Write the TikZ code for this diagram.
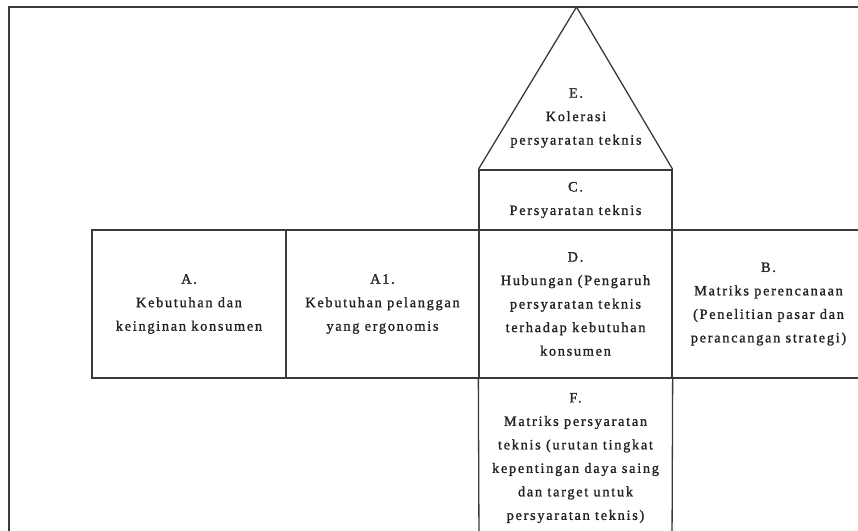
\documentclass[tikz,border=0pt]{standalone}
\usepackage{fontspec}
\setmainfont{Liberation Serif}[LetterSpace=12,FakeBold=1.2]
\definecolor{ln}{HTML}{3A3A3A}
\definecolor{tx}{HTML}{222222}
\begin{document}
\begin{tikzpicture}[x=1pt,y=-1pt,
  cell/.style={draw=ln, line width=1.3pt, inner sep=0pt, align=center, text=tx,
    font=\fontsize{14.3}{23.5}\selectfont},
  lbl/.style={inner sep=0pt, align=center, text=tx, font=\fontsize{14.3}{23.5}\selectfont},
  edge/.style={draw=ln, line width=1.3pt}]
\useasboundingbox (0,0) rectangle (858,530);
\clip (0,0) rectangle (858,530);
% outer frame
\coordinate (fr1) at (9,540);
\coordinate (fr2) at (9,7);
\coordinate (fr3) at (870,7);
\draw[edge] (fr1) -- (fr2) -- (fr3);
% C box
\node[cell, minimum width=193pt, minimum height=60pt] (C) at (575.5,200) {C.\\Persyaratan teknis};
% triangle E
\coordinate (apex) at (576.5,7);
\draw[edge, line join=miter] (C.north west) -- (apex) -- (C.north east);
\node[lbl] (E) at (576,118) {E.\\Kolerasi\\persyaratan teknis};
% main row
\node[cell, minimum width=194pt, minimum height=148pt] (A) at (189,304) {A.\\Kebutuhan dan\\keinginan konsumen};
\node[cell, minimum width=193pt, minimum height=148pt] (A1) at (382.5,304) {A1.\\Kebutuhan pelanggan\\yang ergonomis};
\node[cell, minimum width=193pt, minimum height=148pt] (D) at (575.5,304) {D.\\Hubungan (Pengaruh\\persyaratan teknis\\terhadap kebutuhan\\konsumen};
\node[cell, minimum width=193pt, minimum height=148pt] (B) at (768.5,304) {B.\\Matriks perencanaan\\(Penelitian pasar dan\\perancangan strategi)};
% F column (open at the bottom)
\coordinate (Fl) at (479,545);
\coordinate (Fr) at (672,545);
\draw[edge] (D.south west) -- (Fl);
\draw[edge] (D.south east) -- (Fr);
\node[lbl] (F) at (575.5,458) {F.\\Matriks persyaratan\\teknis (urutan tingkat\\kepentingan daya saing\\dan target untuk\\persyaratan teknis)};
\end{tikzpicture}
\end{document}
